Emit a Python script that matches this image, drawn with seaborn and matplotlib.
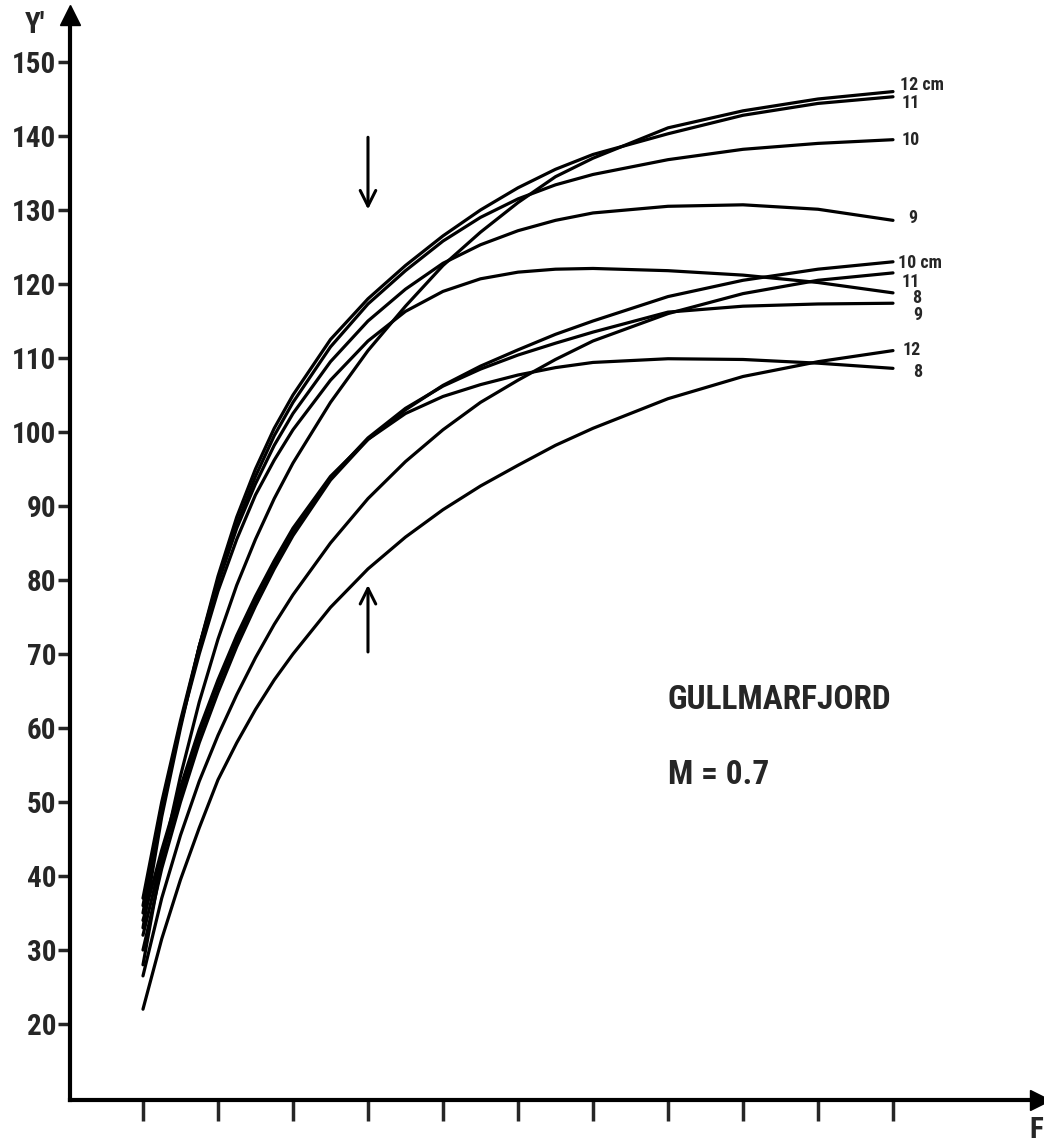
import numpy as np
import pandas as pd
import matplotlib
matplotlib.use("Agg")
import matplotlib.pyplot as plt
import seaborn as sns
from matplotlib import font_manager

# ---------------- data ----------------
F_steps = [0, 0.25, 0.5, 0.75, 1, 1.25, 1.5, 1.75, 2, 2.5, 3, 3.5, 4, 4.5, 5, 5.5, 6, 7, 8, 9, 10]

# upper family (arrow pointing down)
up_12 = [28, 42, 53.5, 63.5, 72, 79.3, 85.5, 91, 95.8, 104, 111, 117, 122.5, 127, 131, 134.5, 137, 141.1, 143.4, 145, 146]
up_11 = [33, 48, 60, 71, 80.5, 88.5, 95, 100.5, 105, 112.5, 118, 122.5, 126.5, 130, 133, 135.5, 137.5, 140.3, 142.8, 144.4, 145.3]
up_10 = [35, 49, 60.5, 71, 80, 87.5, 94, 99.5, 104, 111.5, 117.3, 121.8, 125.8, 129, 131.5, 133.4, 134.8, 136.8, 138.2, 139, 139.5]
up_9 = [37, 50, 61, 71, 79.5, 87, 93, 98.2, 102.5, 109.5, 115, 119.3, 122.8, 125.3, 127.2, 128.6, 129.6, 130.5, 130.7, 130.1, 128.6]
up_8 = [36, 49.5, 60.5, 70, 78.5, 85.5, 91.5, 96.2, 100.3, 107, 112.3, 116.3, 119, 120.7, 121.6, 122, 122.1, 121.8, 121.2, 120.2, 118.8]

# lower family (arrow pointing up)
lo_12 = [22, 31.5, 39.5, 46.5, 53, 58, 62.5, 66.5, 70, 76.3, 81.5, 85.8, 89.5, 92.7, 95.5, 98.2, 100.5, 104.5, 107.5, 109.5, 111]
lo_11 = [26.5, 37, 45.5, 52.8, 59, 64.5, 69.5, 74, 78, 85, 91, 96, 100.3, 104, 107, 109.8, 112.3, 116, 118.7, 120.5, 121.5]
lo_10 = [30, 41, 50, 58, 64.8, 71, 76.5, 81.5, 86, 93.5, 99, 103, 106.3, 108.9, 111.1, 113.2, 115, 118.3, 120.5, 122, 123]
lo_9 = [32, 42.5, 51, 59, 65.8, 71.8, 77, 82, 86.5, 93.8, 99.2, 103.2, 106.2, 108.5, 110.4, 112, 113.5, 116.2, 117, 117.3, 117.4]
lo_8 = [34, 43.5, 52, 59.8, 66.5, 72.5, 77.8, 82.6, 87, 94, 99, 102.5, 104.8, 106.4, 107.7, 108.7, 109.4, 109.9, 109.8, 109.3, 108.6]

series_names = ["u12", "u11", "u10", "u9", "u8", "l12", "l11", "l10", "l9", "l8"]
series_vals = [up_12, up_11, up_10, up_9, up_8, lo_12, lo_11, lo_10, lo_9, lo_8]

end_labels = ["12 cm", "11", "10", "9", "10 cm", "11", "8", "9", "12", "8"]
end_label_y = [146.9, 144.5, 139.5, 128.9, 122.8, 120.3, 118.1, 115.8, 111.1, 108.1]
end_label_x = [10.09, 10.12, 10.12, 10.2, 10.07, 10.12, 10.25, 10.27, 10.13, 10.27]

y_ticks = [20, 30, 40, 50, 60, 70, 80, 90, 100, 110, 120, 130, 140, 150]
x_ticks = list(range(0, 11))

title_text = "GULLMARFJORD"
m_text = "M = 0.7"

# ---------------- style ----------------
sns.set_style("white")
names = {f.name for f in font_manager.fontManager.ttflist}
FONT = "DejaVu Sans"
for cand in ["Liberation Sans Narrow", "DejaVu Sans Condensed", "Roboto Condensed", "Liberation Sans"]:
    if cand in names:
        FONT = cand
        break
plt.rcParams["font.family"] = [FONT, "DejaVu Sans"]
plt.rcParams["font.weight"] = "bold"

fig = plt.figure(figsize=(10.44, 11.46), dpi=100)
ax = fig.add_axes([70 / 1044, 1 - 1100 / 1146, (1040 - 70) / 1044, (1100 - 15) / 1146])

rows = []
for name, vals in zip(series_names, series_vals):
    for xv, yv in zip(F_steps, vals):
        rows.append({"F": xv, "Y": yv, "curve": name})
df = pd.DataFrame(rows)

for name in series_names:
    sub = df[df["curve"] == name]
    sns.lineplot(data=sub, x="F", y="Y", ax=ax, color="black", lw=2.3,
                 estimator=None, sort=False, legend=False,
                 solid_joinstyle="round", solid_capstyle="round")

XMIN, XMAX = -0.973, 11.96
YMIN, YMAX = 9.73, 156.35
ax.set_xlim(XMIN, XMAX)
ax.set_ylim(YMIN, YMAX)

for s in ["top", "right"]:
    ax.spines[s].set_visible(False)
for s in ["left", "bottom"]:
    ax.spines[s].set_linewidth(3)
    ax.spines[s].set_color("black")

ax.set_yticks(y_ticks)
ax.set_yticklabels([str(v) for v in y_ticks], fontsize=21, fontweight="bold")
ax.set_xticks(x_ticks)
ax.set_xticklabels([])
ax.tick_params(axis="y", direction="out", length=9, width=2.5, pad=1, left=True)
ax.tick_params(axis="x", direction="out", length=15, width=2.5, bottom=True)
ax.set_xlabel("")
ax.set_ylabel("")

# axis arrow heads
ax.plot([XMIN], [YMAX], marker="^", ms=14, color="black", clip_on=False)
ax.plot([XMAX], [YMIN], marker=">", ms=14, color="black", clip_on=False)

# end labels
for lab, lx, ly in zip(end_labels, end_label_x, end_label_y):
    ax.text(lx, ly, lab, fontsize=13, fontweight="bold", va="center", ha="left")

# arrows
ax.annotate("", xy=(3, 129.7), xytext=(3, 140.2),
            arrowprops=dict(arrowstyle="->", lw=2.2, color="black", mutation_scale=28))
ax.annotate("", xy=(3, 79.7), xytext=(3, 69.9),
            arrowprops=dict(arrowstyle="->", lw=2.2, color="black", mutation_scale=28))

ax.text(7.0, 63.8, title_text, fontsize=24, fontweight="bold", va="center", ha="left")
ax.text(7.0, 53.6, m_text, fontsize=24, fontweight="bold", va="center", ha="left")

fig.text(35 / 1044, 1 - 25 / 1146, "Y'", fontsize=21, fontweight="bold", ha="center", va="center")
fig.text(1036 / 1044, 1 - 1130 / 1146, "F", fontsize=21, fontweight="bold", ha="center", va="center")

fig.savefig("out.png", dpi=100, facecolor="white")
